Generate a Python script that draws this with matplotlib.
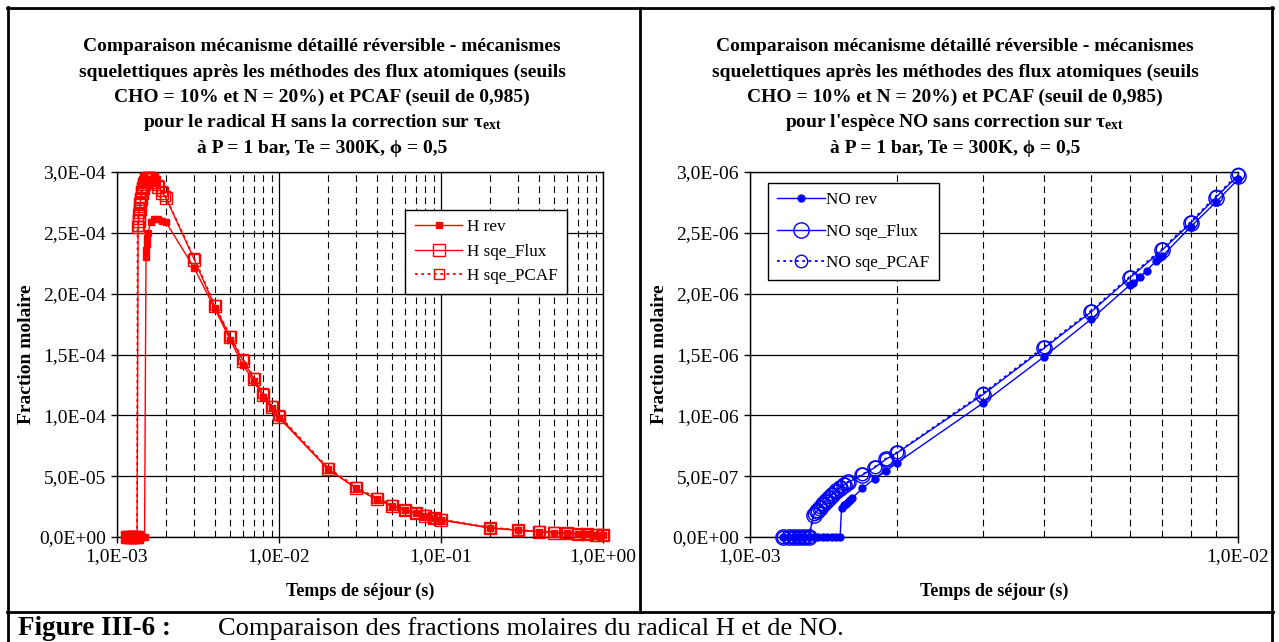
import matplotlib
matplotlib.use('Agg')
import matplotlib.pyplot as plt
import matplotlib.ticker as mticker
from matplotlib.lines import Line2D

plt.rcParams['font.family'] = ['Liberation Serif', 'DejaVu Serif']
plt.rcParams['mathtext.fontset'] = 'custom'
plt.rcParams['mathtext.rm'] = 'Liberation Serif:bold'
plt.rcParams['mathtext.it'] = 'Liberation Serif:bold'
plt.rcParams['mathtext.bf'] = 'Liberation Serif:bold'

# ---- radical H (gauche) ----
t_h_rev = [1.15e-3, 1.18e-3, 1.21e-3, 1.24e-3, 1.27e-3, 1.30e-3, 1.33e-3, 1.36e-3, 1.39e-3,
           1.42e-3, 1.45e-3, 1.48e-3, 1.51e-3, 1.52e-3, 1.53e-3, 1.54e-3, 1.55e-3,
           1.62e-3, 1.7e-3, 1.8e-3, 1.9e-3, 2e-3,
           3e-3, 4e-3, 5e-3, 6e-3, 7e-3, 8e-3, 9e-3, 1e-2,
           2e-2, 3e-2, 4e-2, 5e-2, 6e-2, 7e-2, 8e-2, 9e-2, 1e-1,
           2e-1, 3e-1, 4e-1, 5e-1, 6e-1, 7e-1, 8e-1, 9e-1, 1.0]
h_rev = [0, 0, 0, 0, 0, 0, 0, 0, 0, 0, 0, 0,
         2.30e-4, 2.36e-4, 2.41e-4, 2.46e-4, 2.50e-4,
         2.59e-4, 2.61e-4, 2.61e-4, 2.60e-4, 2.59e-4,
         2.21e-4, 1.88e-4, 1.62e-4, 1.41e-4, 1.28e-4, 1.15e-4, 1.06e-4, 0.98e-4,
         5.6e-5, 4.0e-5, 3.1e-5, 2.55e-5, 2.2e-5, 1.95e-5, 1.75e-5, 1.55e-5, 1.4e-5,
         7.5e-6, 5.5e-6, 4.4e-6, 3.6e-6, 3.0e-6, 2.6e-6, 2.3e-6, 2.0e-6, 1.8e-6]

t_h_flux = [1.15e-3, 1.18e-3, 1.21e-3, 1.24e-3, 1.27e-3, 1.30e-3, 1.33e-3,
            1.35e-3, 1.36e-3, 1.37e-3, 1.38e-3, 1.39e-3, 1.40e-3, 1.42e-3, 1.44e-3,
            1.46e-3, 1.49e-3, 1.52e-3, 1.56e-3, 1.60e-3, 1.65e-3, 1.7e-3, 1.8e-3, 1.9e-3, 2e-3,
            3e-3, 4e-3, 5e-3, 6e-3, 7e-3, 8e-3, 9e-3, 1e-2,
            2e-2, 3e-2, 4e-2, 5e-2, 6e-2, 7e-2, 8e-2, 9e-2, 1e-1,
            2e-1, 3e-1, 4e-1, 5e-1, 6e-1, 7e-1, 8e-1, 9e-1, 1.0]
h_flux = [0, 0, 0, 0, 0, 0, 0,
          2.55e-4, 2.60e-4, 2.65e-4, 2.70e-4, 2.74e-4, 2.78e-4, 2.83e-4, 2.87e-4,
          2.90e-4, 2.92e-4, 2.94e-4, 2.95e-4, 2.95e-4, 2.94e-4, 2.92e-4, 2.88e-4, 2.83e-4, 2.79e-4,
          2.28e-4, 1.90e-4, 1.64e-4, 1.45e-4, 1.30e-4, 1.17e-4, 1.07e-4, 0.99e-4,
          5.6e-5, 4.0e-5, 3.1e-5, 2.55e-5, 2.2e-5, 1.95e-5, 1.75e-5, 1.55e-5, 1.4e-5,
          7.5e-6, 5.5e-6, 4.4e-6, 3.6e-6, 3.0e-6, 2.6e-6, 2.3e-6, 2.0e-6, 1.8e-6]

t_h_pcaf = [1.15e-3, 1.18e-3, 1.21e-3, 1.24e-3, 1.27e-3, 1.30e-3, 1.33e-3,
            1.34e-3, 1.35e-3, 1.36e-3, 1.37e-3, 1.38e-3, 1.39e-3, 1.41e-3, 1.43e-3,
            1.45e-3, 1.48e-3, 1.51e-3, 1.55e-3, 1.59e-3, 1.64e-3, 1.69e-3, 1.79e-3, 1.89e-3, 1.99e-3,
            3e-3, 4e-3, 5e-3, 6e-3, 7e-3, 8e-3, 9e-3, 1e-2,
            2e-2, 3e-2, 4e-2, 5e-2, 6e-2, 7e-2, 8e-2, 9e-2, 1e-1,
            2e-1, 3e-1, 4e-1, 5e-1, 6e-1, 7e-1, 8e-1, 9e-1, 1.0]
h_pcaf = [0, 0, 0, 0, 0, 0, 0,
          2.56e-4, 2.61e-4, 2.66e-4, 2.71e-4, 2.75e-4, 2.79e-4, 2.84e-4, 2.88e-4,
          2.91e-4, 2.93e-4, 2.95e-4, 2.96e-4, 2.96e-4, 2.95e-4, 2.93e-4, 2.89e-4, 2.84e-4, 2.80e-4,
          2.29e-4, 1.91e-4, 1.65e-4, 1.46e-4, 1.31e-4, 1.18e-4, 1.08e-4, 1.00e-4,
          5.7e-5, 4.1e-5, 3.2e-5, 2.6e-5, 2.25e-5, 2.0e-5, 1.8e-5, 1.6e-5, 1.45e-5,
          7.8e-6, 5.8e-6, 4.6e-6, 3.8e-6, 3.2e-6, 2.8e-6, 2.5e-6, 2.2e-6, 2.0e-6]

# ---- espece NO (droite) ----
t_no_rev = [1.17e-3, 1.20e-3, 1.23e-3, 1.26e-3, 1.29e-3, 1.32e-3, 1.35e-3, 1.38e-3, 1.41e-3,
            1.44e-3, 1.47e-3, 1.50e-3, 1.53e-3, 1.54e-3, 1.555e-3, 1.57e-3, 1.585e-3, 1.60e-3, 1.62e-3,
            1.7e-3, 1.8e-3, 1.9e-3, 2e-3, 3e-3, 4e-3, 5e-3,
            6e-3, 6.1e-3, 6.3e-3, 6.5e-3, 6.8e-3, 6.9e-3, 7e-3, 8e-3, 9e-3, 1e-2]
no_rev = [0, 0, 0, 0, 0, 0, 0, 0, 0, 0, 0, 0, 0,
          2.4e-7, 2.6e-7, 2.75e-7, 2.9e-7, 3.05e-7, 3.2e-7,
          4.0e-7, 4.8e-7, 5.4e-7, 6.1e-7, 1.10e-6, 1.48e-6, 1.79e-6,
          2.07e-6, 2.09e-6, 2.14e-6, 2.19e-6, 2.27e-6, 2.29e-6, 2.31e-6, 2.55e-6, 2.75e-6, 2.94e-6]

t_no_flux = [1.17e-3, 1.20e-3, 1.23e-3, 1.26e-3, 1.29e-3, 1.32e-3,
             1.35e-3, 1.37e-3, 1.39e-3, 1.41e-3, 1.43e-3, 1.45e-3, 1.47e-3, 1.50e-3, 1.53e-3,
             1.56e-3, 1.59e-3, 1.7e-3, 1.8e-3, 1.9e-3, 2e-3,
             3e-3, 4e-3, 5e-3, 6e-3, 7e-3, 8e-3, 9e-3, 1e-2]
no_flux = [0, 0, 0, 0, 0, 0,
           1.8e-7, 2.1e-7, 2.4e-7, 2.7e-7, 2.95e-7, 3.2e-7, 3.45e-7, 3.75e-7, 4.05e-7,
           4.3e-7, 4.5e-7, 5.1e-7, 5.7e-7, 6.4e-7, 6.9e-7,
           1.17e-6, 1.55e-6, 1.85e-6, 2.13e-6, 2.36e-6, 2.58e-6, 2.79e-6, 2.97e-6]

t_no_pcaf = [1.17e-3, 1.20e-3, 1.23e-3, 1.26e-3, 1.29e-3, 1.32e-3,
             1.35e-3, 1.37e-3, 1.39e-3, 1.41e-3, 1.43e-3, 1.45e-3, 1.47e-3, 1.50e-3, 1.53e-3,
             1.56e-3, 1.59e-3, 1.7e-3, 1.8e-3, 1.9e-3, 2e-3,
             3e-3, 4e-3, 5e-3, 6e-3, 7e-3, 8e-3, 9e-3, 1e-2]
no_pcaf = [0, 0, 0, 0, 0, 0,
           1.85e-7, 2.15e-7, 2.45e-7, 2.75e-7, 3.0e-7, 3.25e-7, 3.5e-7, 3.8e-7, 4.1e-7,
           4.35e-7, 4.55e-7, 5.15e-7, 5.75e-7, 6.45e-7, 6.95e-7,
           1.18e-6, 1.56e-6, 1.86e-6, 2.14e-6, 2.37e-6, 2.59e-6, 2.80e-6, 2.98e-6]

titre_h = ["Comparaison mécanisme détaillé réversible - mécanismes",
           "squelettiques après les méthodes des flux atomiques (seuils",
           "CHO = 10% et N = 20%) et PCAF (seuil de 0,985)",
           r"pour le radical H sans la correction sur $\tau_{\mathrm{ext}}$",
           "à P = 1 bar, Te = 300K, \u03d5 = 0,5"]
titre_no = ["Comparaison mécanisme détaillé réversible - mécanismes",
            "squelettiques après les méthodes des flux atomiques (seuils",
            "CHO = 10% et N = 20%) et PCAF (seuil de 0,985)",
            r"pour l'espèce NO sans correction sur $\tau_{\mathrm{ext}}$",
            "à P = 1 bar, Te = 300K, \u03d5 = 0,5"]

W, H = 1279, 642
fig = plt.figure(figsize=(W / 100, H / 100), dpi=100)


def sci(v, pos):
    return ('%.1E' % v).replace('.', ',')


def prep(ax, xmax, ymax, ystep):
    ax.set_xscale('log')
    ax.set_xlim(1e-3, xmax)
    ax.set_ylim(0, ymax)
    ax.yaxis.set_major_locator(mticker.MultipleLocator(ystep))
    ax.yaxis.set_major_formatter(mticker.FuncFormatter(sci))
    ax.xaxis.set_major_locator(mticker.LogLocator(base=10, numticks=10))
    ax.xaxis.set_minor_locator(mticker.LogLocator(base=10, subs=range(2, 10), numticks=10))
    ax.xaxis.set_major_formatter(mticker.FuncFormatter(sci))
    ax.xaxis.set_minor_formatter(mticker.NullFormatter())
    ax.grid(True, which='major', axis='both', color='black', lw=0.9)
    ax.grid(True, which='minor', axis='x', color='black', lw=0.8, ls=(0, (6, 4)))
    ax.set_axisbelow(True)
    ax.tick_params(which='major', direction='out', length=4, width=1, labelsize=14,
                   colors='black', pad=4)
    ax.tick_params(axis='x', which='major', pad=4)
    ax.tick_params(which='minor', length=0)
    for s in ax.spines.values():
        s.set_color('black')
        s.set_linewidth(1)
    ax.set_xlabel('Temps de séjour (s)', fontsize=13, fontweight='bold', labelpad=13)
    ax.set_ylabel('Fraction molaire', fontsize=14, fontweight='bold', labelpad=3)


ax1 = fig.add_axes([117 / W, 1 - 537 / H, (603 - 117) / W, (537 - 172) / H])
prep(ax1, 1.0, 3e-4, 5e-5)

red = '#ff0000'
ax1.plot(t_h_rev, h_rev, color=red, lw=1, marker='s', ms=5, mfc=red, mec=red,
         label='H rev', clip_on=False, zorder=4)
ax1.plot(t_h_flux, h_flux, color=red, lw=1, marker='s', ms=8, mfc='none', mec=red, mew=1,
         label='H sqe_Flux', clip_on=False, zorder=3)
ax1.plot(t_h_pcaf, h_pcaf, color=red, lw=1.3, ls=(0, (1.5, 2)), marker='s', ms=6.5, mfc='none',
         mec=red, mew=1, label='H sqe_PCAF', clip_on=False, zorder=3)
leg1 = ax1.legend(loc='upper left', bbox_to_anchor=(0.593, 0.896), fontsize=12.3, frameon=True,
                  fancybox=False, edgecolor='black', framealpha=1, handlelength=2.8,
                  labelspacing=0.5, borderpad=0.55, handletextpad=0.25, borderaxespad=0)
leg1.get_frame().set_linewidth(1)

ax2 = fig.add_axes([750 / W, 1 - 537 / H, (1238 - 750) / W, (537 - 172) / H])
prep(ax2, 1e-2, 3e-6, 5e-7)

blue = '#0000ff'
ax2.plot(t_no_rev, no_rev, color=blue, lw=1, marker='o', ms=5, mfc=blue, mec=blue,
         label='NO rev', clip_on=False, zorder=4)
ax2.plot(t_no_flux, no_flux, color=blue, lw=1, marker='o', ms=11, mfc='none', mec=blue, mew=1,
         label='NO sqe_Flux', clip_on=False, zorder=3)
ax2.plot(t_no_pcaf, no_pcaf, color=blue, lw=1.3, ls=(0, (1.5, 2)), marker='o', ms=9, mfc='none',
         mec=blue, mew=1, label='NO sqe_PCAF', clip_on=False, zorder=3)
leg2 = ax2.legend(loc='upper left', bbox_to_anchor=(0.037, 0.970), fontsize=12.3, frameon=True,
                  fancybox=False, edgecolor='black', framealpha=1, handlelength=2.8,
                  labelspacing=0.9, borderpad=0.55, handletextpad=0.05, borderaxespad=0)
leg2.get_frame().set_linewidth(1)

# titres
ys = [51, 77, 102, 127, 153]
for txt, y in zip(titre_h, ys):
    fig.text(322 / W, 1 - y / H, txt, ha='center', va='baseline', fontsize=14, fontweight='bold')
for txt, y in zip(titre_no, ys):
    fig.text(955 / W, 1 - y / H, txt, ha='center', va='baseline', fontsize=14, fontweight='bold')

# cadre du tableau
def hline(y, x0, x1, lw=2):
    fig.add_artist(Line2D([x0 / W, x1 / W], [1 - y / H, 1 - y / H], color='black', lw=lw))


def vline(x, y0, y1, lw=2):
    fig.add_artist(Line2D([x / W, x / W], [1 - y0 / H, 1 - y1 / H], color='black', lw=lw))


hline(8, 7, 1273)
hline(612, 7, 1273)
vline(8, 7, 642)
vline(1272, 7, 642)
vline(640, 8, 612)

fig.text(18 / W, 1 - 635 / H, 'Figure III-6 :', fontsize=19.5, fontweight='bold', va='baseline')
fig.text(218 / W, 1 - 635 / H, 'Comparaison des fractions molaires du radical H et de NO.',
         fontsize=19, va='baseline')

fig.savefig('out.png', dpi=100)
